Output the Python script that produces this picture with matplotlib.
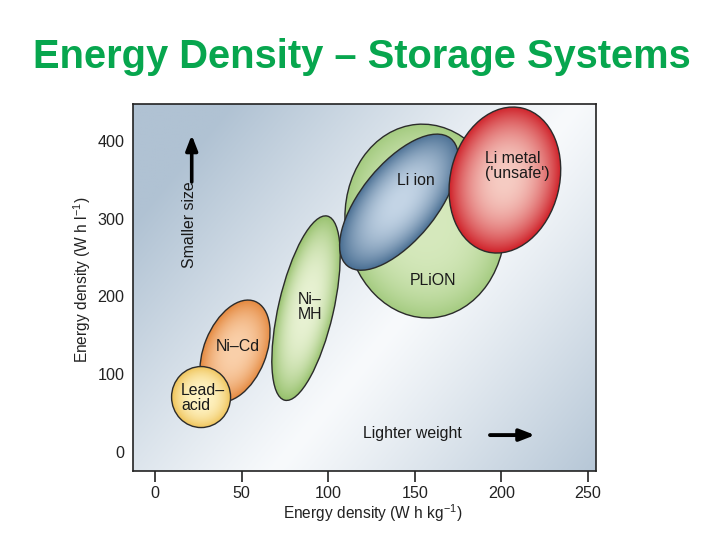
import numpy as np
import matplotlib
matplotlib.use("Agg")
import matplotlib.pyplot as plt
from matplotlib.patches import Ellipse
from matplotlib.transforms import IdentityTransform
from matplotlib.colors import to_rgb

plt.rcParams['font.family'] = ['Liberation Sans', 'DejaVu Sans']
plt.rcParams['mathtext.fontset'] = 'custom'
plt.rcParams['mathtext.rm'] = 'Liberation Sans'
plt.rcParams['mathtext.it'] = 'Liberation Sans:italic'
plt.rcParams['mathtext.default'] = 'rm'

# ---- data (energy density ranges of storage technologies) ----
technologies = ["PLiON", "Li ion", "Li metal", "Ni-MH", "Ni-Cd", "Lead-acid"]
grav_center = [155.9, 140.9, 202.0, 87.2, 46.2, 26.6]     # W h kg-1
vol_center = [296.8, 321.0, 349.4, 185.0, 130.0, 70.9]    # W h l-1
x_ticks = [0, 50, 100, 150, 200, 250]
y_ticks = [0, 100, 200, 300, 400]

# ---- styling (pixel sizes of ellipses, angle, colours) ----
shape_px = {  # width, height (px), angle (deg)
    "PLiON": (194, 160, 95),
    "Li ion": (164, 76, 51),
    "Li metal": (148, 109, 76),
    "Ni-MH": (189, 55, 77),
    "Ni-Cd": (107, 62, 68),
    "Lead-acid": (59, 61, 0),
}
fills = {  # inner colour, rim colour, gradient exponent
    "PLiON": ("#d6e9bd", "#a4cb80", 3.0),
    "Li ion": ("#c4d5e6", "#4a6f93", 2.2),
    "Li metal": ("#f6ccc3", "#cf2129", 2.2),
    "Ni-MH": ("#e8f2d3", "#97c16d", 2.6),
    "Ni-Cd": ("#fad0aa", "#e4883e", 2.4),
    "Lead-acid": ("#fff3c4", "#efc358", 2.6),
}
label_text = {
    "PLiON": ("PLiON", 160.5, 221, "center"),
    "Li ion": ("Li ion", 150.7, 349.4, "center"),
    "Li metal": ("Li metal\n('unsafe')", 190.5, 366.8, "left"),
    "Ni-MH": ("Ni\u2013\nMH", 82.6, 186.4, "left"),
    "Ni-Cd": ("Ni\u2013Cd", 47.6, 136.3, "center"),
    "Lead-acid": ("Lead\u2013\nacid", 15.0, 69.6, "left"),
}

W, H, DPI = 720, 540, 100
fig = plt.figure(figsize=(W / DPI, H / DPI), dpi=DPI)
ax = fig.add_axes([133 / W, 69 / H, (596 - 133) / W, (471 - 104) / H])
ax.set_xlim(-12.7, 254.6)
ax.set_ylim(-24, 447)
ax.set_autoscale_on(False)

# background gradient (blue-grey in top-left and bottom-right corners)
n = 300
u, v = np.meshgrid(np.linspace(0, 1, n), np.linspace(0, 1, n))
d = v - 0.08 - 1.53 * (u - 0.36)
f = np.clip(np.abs(d) / 1.15, 0, 1) ** 1.1
white = np.array(to_rgb("#f8fafc"))
blue = np.array(to_rgb("#b0c2d3"))
bg = white * (1 - f)[..., None] + blue * f[..., None]
ax.imshow(bg, extent=(0, 1, 0, 1), transform=ax.transAxes, origin='lower',
          aspect='auto', zorder=0, interpolation='bilinear')


def grad_ellipse(name, cx, cy, z):
    w, h, ang = shape_px[name]
    ci, co, p = fills[name]
    c_in, c_out = np.array(to_rgb(ci)), np.array(to_rgb(co))
    X0, Y0 = ax.transData.transform((cx, cy))
    a, b = w / 2, h / 2
    th = np.deg2rad(ang)
    hw = np.sqrt((a * np.cos(th)) ** 2 + (b * np.sin(th)) ** 2) + 2
    hh = np.sqrt((a * np.sin(th)) ** 2 + (b * np.cos(th)) ** 2) + 2
    xs = np.linspace(X0 - hw, X0 + hw, 240)
    ys = np.linspace(Y0 - hh, Y0 + hh, 240)
    XX, YY = np.meshgrid(xs, ys)
    dx, dy = XX - X0, YY - Y0
    uu = (dx * np.cos(th) + dy * np.sin(th)) / a
    vv = (-dx * np.sin(th) + dy * np.cos(th)) / b
    r = np.sqrt(uu ** 2 + vv ** 2)
    t = np.clip(r, 0, 1) ** p
    img = c_in * (1 - t)[..., None] + c_out * t[..., None]
    inv = ax.transData.inverted()
    x0, y0 = inv.transform((X0 - hw, Y0 - hh))
    x1, y1 = inv.transform((X0 + hw, Y0 + hh))
    im = ax.imshow(img, extent=(x0, x1, y0, y1), origin='lower', aspect='auto',
                   zorder=z, interpolation='bilinear')
    patch = Ellipse((X0, Y0), w, h, angle=ang, transform=IdentityTransform(),
                    facecolor='none', edgecolor='#2b2b2b', lw=1.0, zorder=z + 0.1)
    ax.add_patch(patch)
    clip = Ellipse((X0, Y0), w, h, angle=ang, transform=IdentityTransform(),
                   facecolor='none', edgecolor='none')
    im.set_clip_path(clip)


order = ["Ni-MH", "Ni-Cd", "Lead-acid", "PLiON", "Li ion", "Li metal"]
for i, name in enumerate(order):
    k = technologies.index(name)
    grad_ellipse(name, grav_center[k], vol_center[k], 2 + i)
    txt, tx, ty, ha = label_text[name]
    ax.text(tx, ty, txt, ha=ha, va='center', fontsize=11.4, color='#1a1a1a',
            linespacing=1.0, zorder=20)

# annotations
ax.text(20.2, 291.7, "Smaller size", rotation=90, ha='center', va='center',
        fontsize=11.4, color='#1a1a1a', zorder=20)
ax.annotate("", xy=(21.2, 407.2), xytext=(21.2, 346.9),
            arrowprops=dict(arrowstyle='-|>,head_length=0.9,head_width=0.35',
                            lw=2.6, color='black', shrinkA=0, shrinkB=0), zorder=20)
ax.text(148.7, 24.6, "Lighter weight", ha='center', va='center',
        fontsize=11.4, color='#1a1a1a', zorder=20)
ax.annotate("", xy=(219.4, 22.1), xytext=(193.4, 22.1),
            arrowprops=dict(arrowstyle='-|>,head_length=0.9,head_width=0.35',
                            lw=2.8, color='black', shrinkA=0, shrinkB=0), zorder=20)

# axes styling
for sp in ax.spines.values():
    sp.set_linewidth(1.2)
    sp.set_color('#222222')
ax.set_xticks(x_ticks)
ax.set_xticklabels([str(t) for t in x_ticks], fontsize=11.6, color='#222222')
ax.set_yticks(y_ticks)
ax.set_yticklabels([str(t) for t in y_ticks], fontsize=11.6, color='#222222')
ax.tick_params(axis='x', direction='out', length=8, width=1.2, pad=3, color='#222222')
ax.tick_params(axis='y', length=0, pad=6)

fig.text(373 / W, 1 - 513 / H, "Energy density (W h kg$^{-1}$)", ha='center', va='center',
         fontsize=11.2, color='#222222')
fig.text(82 / W, 1 - 280 / H, "Energy density (W h l$^{-1}$)", ha='center', va='center',
         rotation=90, fontsize=11.2, color='#222222')

fig.text(361.5 / W, 1 - 57 / H, "Energy Density \u2013 Storage Systems", ha='center',
         va='center', fontsize=28.7, fontweight='bold', color='#07a64e')

fig.savefig("out.png", dpi=DPI)
